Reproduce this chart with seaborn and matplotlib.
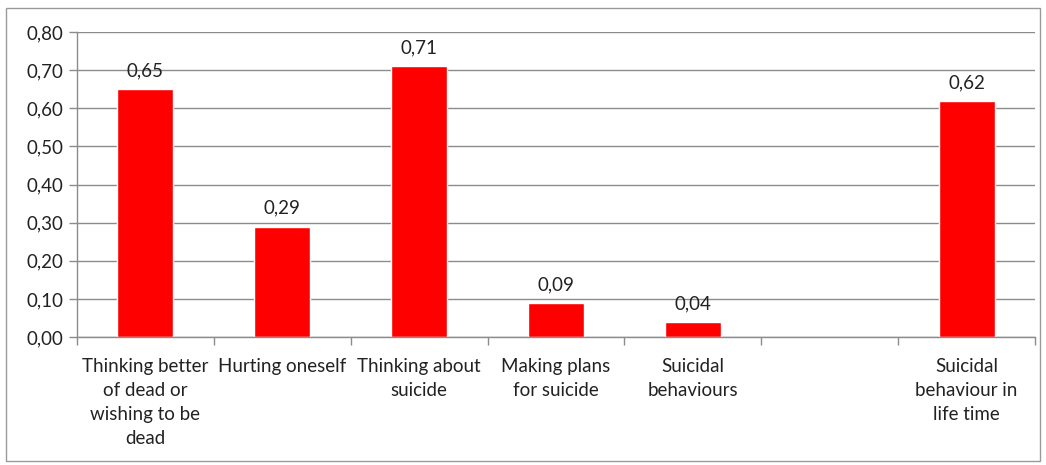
import pandas as pd
import numpy as np
import matplotlib.pyplot as plt
import matplotlib.patches as mpatches
from matplotlib.ticker import FuncFormatter, MultipleLocator, FixedLocator
import seaborn as sns

# Chart data
categories = ["Thinking better of dead or wishing to be dead", "Hurting oneself",
              "Thinking about suicide", "Making plans for suicide", "Suicidal behaviours",
              "(blank)", "Suicidal behaviour in life time"]
tick_labels = ["Thinking better\nof dead or\nwishing to be\ndead", "Hurting oneself",
               "Thinking about\nsuicide", "Making plans\nfor suicide", "Suicidal\nbehaviours",
               "", "Suicidal\nbehaviour in\nlife time"]
values = [0.65, 0.29, 0.71, 0.09, 0.04, np.nan, 0.62]

df = pd.DataFrame({"cat": categories, "val": values})

sns.set_style("white")
plt.rcParams['font.family'] = ['Lato', 'DejaVu Sans']

fig = plt.figure(figsize=(10.46, 4.65), dpi=100)
ax = fig.add_axes([0.0736, 0.275, 0.9159, 0.656])

sns.barplot(data=df, x="cat", y="val", order=categories, color="#ff0000",
            width=0.41, saturation=1, ax=ax)

ax.set_ylim(0, 0.8)
ax.set_xlim(-0.5, len(categories) - 0.5)
ax.yaxis.set_major_locator(MultipleLocator(0.1))
ax.yaxis.set_major_formatter(FuncFormatter(lambda v, p: f"{v:.2f}".replace(".", ",")))
ax.grid(True, axis="y", color="#8c8c8c", linewidth=1)
ax.set_axisbelow(True)

ax.set_xticks(range(len(categories)))
ax.set_xticklabels(tick_labels, fontsize=13.5, color="#222222", linespacing=1.5)
ax.xaxis.set_minor_locator(FixedLocator(np.arange(-0.5, len(categories), 1)))
ax.tick_params(axis="x", which="major", length=0, pad=15)
ax.tick_params(axis="x", which="minor", length=6, color="#8c8c8c", width=1, bottom=True)
ax.tick_params(axis="y", length=6, color="#8c8c8c", width=1, left=True, labelsize=13.5,
               labelcolor="#222222", pad=4)
ax.set_xlabel("")
ax.set_ylabel("")

for s in ["top", "right"]:
    ax.spines[s].set_visible(False)
for s in ["left", "bottom"]:
    ax.spines[s].set_color("#8c8c8c")
    ax.spines[s].set_linewidth(1)

for c in ax.containers:
    ax.bar_label(c, fmt=lambda v: "" if np.isnan(v) else f"{v:.2f}".replace(".", ","),
                 padding=7, fontsize=13.5, color="#222222")

# outer border of the chart area
fig.patches.append(mpatches.Rectangle((6 / 1046, 1 - 461 / 465), 1034 / 1046, 453 / 465,
                                      transform=fig.transFigure, fill=False,
                                      edgecolor="#9a9a9a", linewidth=1))

fig.savefig("out.png", dpi=100)
